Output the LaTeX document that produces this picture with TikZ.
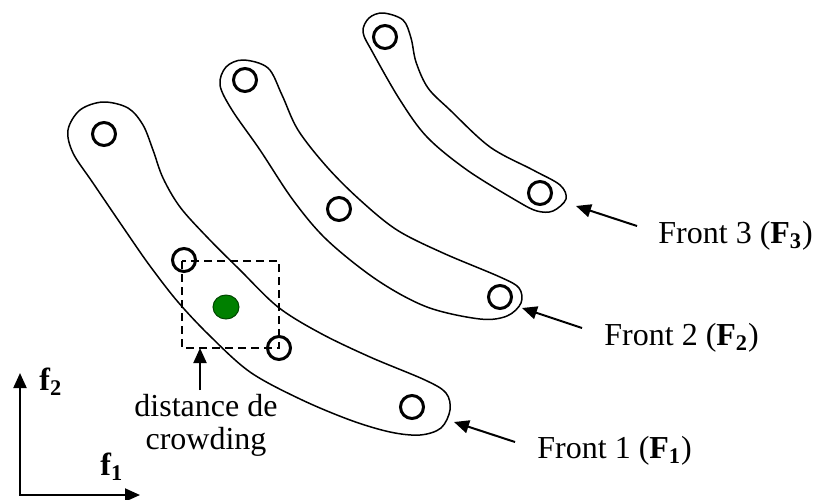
\documentclass[tikz,border=0pt]{standalone}
\usepackage{fontspec}
\setmainfont{Liberation Serif}
\usetikzlibrary{arrows.meta, shapes.geometric}
\definecolor{dotgreen}{RGB}{0,128,0}
\definecolor{dotedge}{RGB}{0,70,0}

\begin{document}
\begin{tikzpicture}[x=0.5pt, y=-0.5pt, >={Triangle[length=7.5pt, width=6.5pt]},
  sol/.style={circle, draw, line width=1.5pt, minimum size=11.5pt, inner sep=0pt},
  front/.style={line width=0.75pt},
  lbl/.style={font=\fontsize{16}{15.5}\selectfont, inner sep=0pt},
  pointer/.style={->, line width=1pt}]

\useasboundingbox (0,0) rectangle (813,499);

% fronts (outlines)
\draw[front] plot[smooth cycle, tension=0.55] coordinates {(103,102) (128,108) (143,125) (153,150) (163,178) (180,207) (207,237) (240,270) (278,307) (320,333) (370,357) (425,380) (446,393) (450,410) (441,428) (420,435) (390,432) (350,420) (300,399) (250,372) (210,336) (178,302) (150,266) (127,233) (93,183) (73,153) (68,130) (80,110)};
\draw[front] plot[smooth cycle, tension=0.55] coordinates {(243,60) (268,68) (282,95) (298,130) (327,167) (360,200) (397,230) (443,253) (500,277) (519,288) (521,303) (507,316) (480,319) (427,307) (377,280) (327,240) (293,200) (260,150) (232,110) (220,85) (226,67)};
\draw[front] plot[smooth cycle, tension=0.55] coordinates {(383,13) (403,20) (411,38) (416,62) (428,88) (450,110) (490,147) (533,170) (560,185) (566,199) (553,211) (537,211) (517,201) (467,170) (427,137) (400,100) (373,53) (363,32) (369,18)};

% solutions
\node[sol] (p11) at (104,134) {};
\node[sol] (p12) at (184,260) {};
\node[sol] (p13) at (279,348) {};
\node[sol] (p14) at (412,407) {};
\node[sol] (p21) at (245,80) {};
\node[sol] (p22) at (339,209) {};
\node[sol] (p23) at (500,297) {};
\node[sol] (p31) at (385,37) {};
\node[sol] (p32) at (540,193) {};

% crowding box
\coordinate (bx1) at (182,261);
\coordinate (bx2) at (279,348);
\draw[dashed, dash pattern=on 4pt off 2.5pt, line width=0.75pt] (bx1) rectangle (bx2);
\node[ellipse, fill=dotgreen, draw=dotedge, line width=0.5pt, minimum width=13pt, minimum height=12pt, inner sep=0pt] (dot) at (226,307) {};

\coordinate (cr) at (200,348);
\node[lbl, align=center, anchor=north, inner sep=0pt] (crowd) at (206,394) {distance de\\[1pt]crowding};
\draw[pointer] ([yshift=2pt]crowd.north -| cr) -- (cr);

% front labels
\coordinate (h1) at (454,422);
\coordinate (h2) at (522,308);
\coordinate (h3) at (576,206);
\node[lbl, anchor=base west] (lab1) at (537,458) {Front 1 (\textbf{F\textsubscript{1}})};
\node[lbl, anchor=base west] (lab2) at (604,345) {Front 2 (\textbf{F\textsubscript{2}})};
\node[lbl, anchor=base west] (lab3) at (658,243) {Front 3 (\textbf{F\textsubscript{3}})};
\draw[pointer] ([shift={(-22,-16)}]lab1.base west) -- (h1);
\draw[pointer] ([shift={(-22,-17)}]lab2.base west) -- (h2);
\draw[pointer] ([shift={(-21,-17)}]lab3.base west) -- (h3);

% axes
\coordinate (o) at (20,495);
\coordinate (f2end) at (20,373);
\coordinate (f1end) at (140,495);
\draw[<->, line width=1pt] (f2end) -- (o) -- (f1end);
\node[lbl, anchor=base west] (f2lab) at (39,390) {\textbf{f\textsubscript{2}}};
\node[lbl, anchor=base west] (f1lab) at (100,475) {\textbf{f\textsubscript{1}}};

\end{tikzpicture}
\end{document}
